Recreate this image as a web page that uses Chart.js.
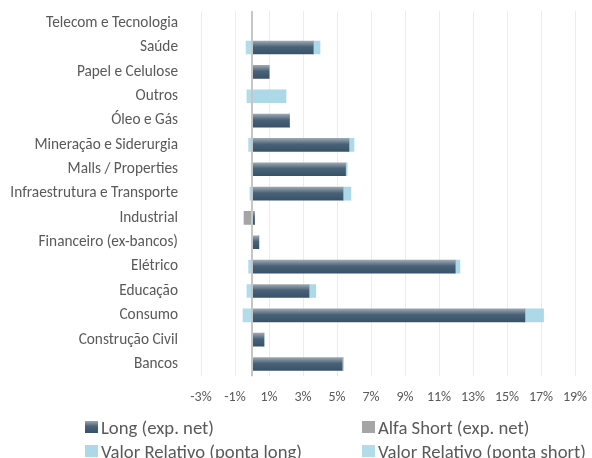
<!DOCTYPE html>
<html>
<head>
<meta charset="utf-8">
<script src="https://cdn.jsdelivr.net/npm/chart.js@4.4.1/dist/chart.umd.min.js"></script>
<style>
  body { margin: 0; background: #fff; }
  .wrap { position: relative; width: 592px; height: 458px; overflow: hidden; }
  .legend { position: absolute; left: 0; top: 415px; width: 592px; font-family: Carlito, Lato, sans-serif; font-size: 18.7px; color: #595959; }
  .legend .item { position: absolute; white-space: nowrap; height: 24px; display: flex; align-items: center; }
  .legend .box { width: 13px; height: 12px; margin-right: 3px; flex: none; }
</style>
</head>
<body>
<div class="wrap">
  <canvas id="chart" width="592" height="458"></canvas>
  <div class="legend" id="legend"></div>
</div>
<script>
const categories = [
  'Telecom e Tecnologia', 'Saúde', 'Papel e Celulose', 'Outros', 'Óleo e Gás',
  'Mineração e Siderurgia', 'Malls / Properties', 'Infraestrutura e Transporte',
  'Industrial', 'Financeiro (ex-bancos)', 'Elétrico', 'Educação', 'Consumo',
  'Construção Civil', 'Bancos'
];

// % of NAV
const longNet      = [0, 3.6, 1.0, 0, 2.2, 5.7, 5.5, 5.35, 0.15, 0.4, 11.95, 3.35, 16.05, 0.7, 5.3];
const alfaShort    = [0, 0, 0, 0, 0, 0, 0, 0, -0.47, 0, 0, 0, 0, 0, 0];
const vrPontaLong  = [0, 0.4, 0, 2.0, 0, 0.3, 0.1, 0.47, 0, 0, 0.28, 0.4, 1.1, 0, 0.08];
const vrPontaShort = [0, -0.35, 0, -0.3, 0, -0.2, -0.05, -0.12, 0, 0, -0.2, -0.3, -0.53, 0, 0];

const seriesNames = ['Long (exp. net)', 'Alfa Short (exp. net)', 'Valor Relativo (ponta long)', 'Valor Relativo (ponta short)'];
const xTicks = { min: -3, max: 19, step: 2 };

const BAR_H = 13;
const FONT = 'Carlito, Lato, sans-serif';

function longFill(c) {
  const chart = c.chart;
  if (!chart.chartArea || c.type !== 'data') return '#3b566b';
  const y = chart.scales.y.getPixelForValue(c.dataIndex);
  const g = chart.ctx.createLinearGradient(0, y - BAR_H / 2, 0, y + BAR_H / 2);
  g.addColorStop(0, '#9aa7b2');
  g.addColorStop(0.45, '#4a6276');
  g.addColorStop(1, '#37526a');
  return g;
}

const zeroLine = {
  id: 'zeroLine',
  afterDatasetsDraw(chart) {
    const { ctx, chartArea, scales } = chart;
    const x = scales.x.getPixelForValue(0);
    ctx.save();
    ctx.strokeStyle = '#c6c6c6';
    ctx.lineWidth = 2;
    ctx.beginPath();
    ctx.moveTo(x, chartArea.top);
    ctx.lineTo(x, chartArea.bottom);
    ctx.stroke();
    ctx.restore();
  }
};

// tick padding should not eat into the plot area
function noEdgePad(s) {
  s.paddingTop = 0; s.paddingBottom = 0;
  s.paddingLeft = 0; s.paddingRight = 0;
}

// fixed y axis width so the plot starts where the original does
function yWidth(s) {
  noEdgePad(s);
  s.width = 192;
}

const chart = new Chart(document.getElementById('chart'), {
  type: 'bar',
  data: {
    labels: categories,
    datasets: [
      { label: seriesNames[0], data: longNet, backgroundColor: longFill },
      { label: seriesNames[1], data: alfaShort, backgroundColor: '#a5a5a5' },
      { label: seriesNames[2], data: vrPontaLong, backgroundColor: '#acd8e7' },
      { label: seriesNames[3], data: vrPontaShort, backgroundColor: '#b2dcea' }
    ]
  },
  options: {
    indexAxis: 'y',
    responsive: false,
    animation: false,
    barThickness: BAR_H,
    layout: { padding: { top: 11, right: 17, bottom: 39, left: 9 } },
    plugins: {
      legend: { display: false },
      tooltip: { enabled: false }
    },
    scales: {
      x: {
        stacked: true,
        min: xTicks.min,
        max: xTicks.max,
        afterFit: noEdgePad,
        grid: { color: '#ececec', drawTicks: false },
        border: { display: false },
        ticks: {
          stepSize: xTicks.step,
          padding: 13,
          color: '#595959',
          font: { family: FONT, size: 14 },
          callback: v => v + '%'
        }
      },
      y: {
        stacked: true,
        afterFit: yWidth,
        grid: { display: false },
        border: { display: false },
        ticks: {
          padding: 15,
          color: '#595959',
          font: { family: FONT, size: 15.3 }
        }
      }
    }
  },
  plugins: [zeroLine]
});

// two-column legend like the original
const legendPos = [[85, 0], [362, 0], [85, 24], [362, 24]];
const legendFill = [
  'linear-gradient(#9aa7b2, #4a6276 45%, #37526a)',
  '#a5a5a5', '#acd8e7', '#b2dcea'
];
const legendEl = document.getElementById('legend');
seriesNames.forEach((name, i) => {
  const it = document.createElement('div');
  it.className = 'item';
  it.style.left = legendPos[i][0] + 'px';
  it.style.top = legendPos[i][1] + 'px';
  it.innerHTML = '<span class="box" style="background:' + legendFill[i] + '"></span><span>' + name + '</span>';
  legendEl.appendChild(it);
});
</script>
</body>
</html>
